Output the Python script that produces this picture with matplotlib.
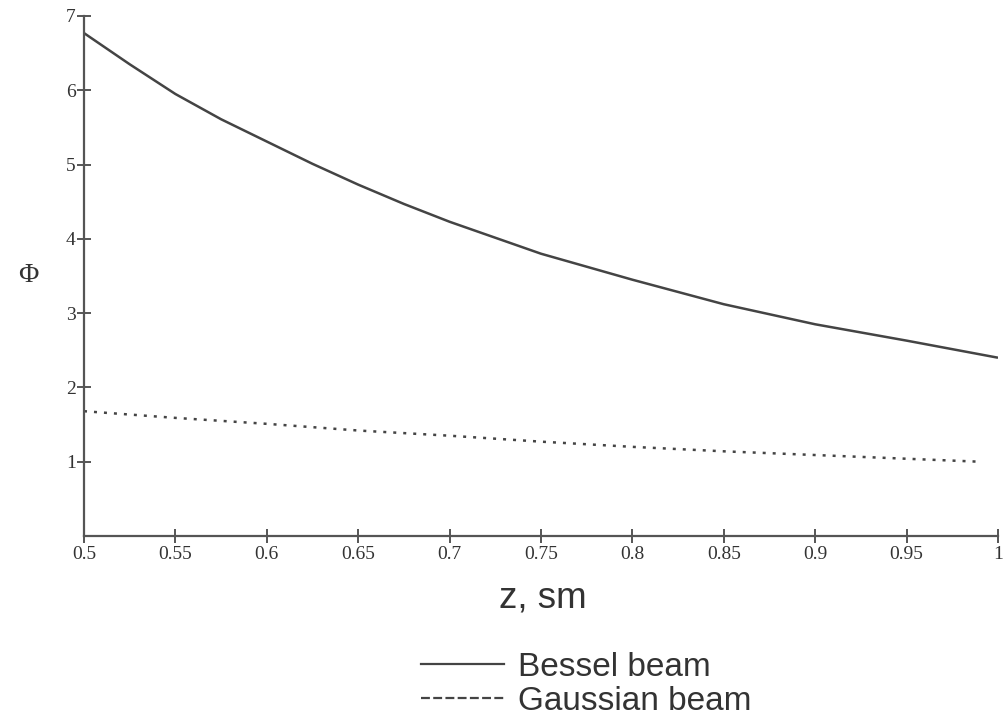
import matplotlib
matplotlib.use("Agg")
import matplotlib.pyplot as plt
from matplotlib.lines import Line2D

z_bessel = [0.5, 0.525, 0.55, 0.575, 0.6, 0.625, 0.65, 0.675, 0.7, 0.75, 0.8, 0.85, 0.9, 0.95, 1.0]
phi_bessel = [6.77, 6.35, 5.95, 5.61, 5.31, 5.01, 4.73, 4.47, 4.23, 3.80, 3.45, 3.12, 2.85, 2.63, 2.40]

z_gauss = [0.5, 0.55, 0.6, 0.65, 0.7, 0.75, 0.8, 0.85, 0.9, 0.95, 0.99]
phi_gauss = [1.68, 1.59, 1.51, 1.42, 1.35, 1.27, 1.20, 1.14, 1.09, 1.04, 1.0]

x_ticks = [0.5, 0.55, 0.6, 0.65, 0.7, 0.75, 0.8, 0.85, 0.9, 0.95, 1.0]
x_ticklabels = ["0.5", "0.55", "0.6", "0.65", "0.7", "0.75", "0.8", "0.85", "0.9", "0.95", "1"]
y_ticks = [1, 2, 3, 4, 5, 6, 7]
y_ticklabels = ["1", "2", "3", "4", "5", "6", "7"]

series_labels = ["Bessel beam", "Gaussian beam"]

W, H = 1004, 723
fig = plt.figure(figsize=(W / 100, H / 100), dpi=100)
ax = fig.add_axes([84 / W, (H - 536) / H, (998 - 84) / W, (536 - 16) / H])

line_col = "#444444"
axis_col = "#555555"

ax.plot(z_bessel, phi_bessel, color=line_col, lw=1.8, solid_capstyle="butt")
ax.plot(z_gauss, phi_gauss, color=line_col, lw=1.8, linestyle=(0, (1.2, 2.8)))

ax.set_xlim(0.5, 1.0)
ax.set_ylim(0, 7)
for s in ["top", "right"]:
    ax.spines[s].set_visible(False)
for s in ["left", "bottom"]:
    ax.spines[s].set_color(axis_col)
    ax.spines[s].set_linewidth(1.6)

ax.set_xticks(x_ticks)
ax.set_xticklabels(x_ticklabels, family="Liberation Serif", fontsize=14, color="#333333")
ax.set_yticks(y_ticks)
ax.set_yticklabels(y_ticklabels, family="Liberation Serif", fontsize=14, color="#333333")
ax.tick_params(axis="x", direction="inout", length=10, width=1.4, color=axis_col, pad=2)
ax.tick_params(axis="y", direction="inout", length=10, width=1.4, color=axis_col, pad=1)

ax.set_ylabel("Φ", rotation=0, family="Liberation Serif", fontsize=20, color="#333333",
              va="center", ha="center")
ax.yaxis.set_label_coords((28 - 84) / 914, (536 - 276) / 520)
ax.set_xlabel("z, sm", family="Liberation Sans", fontsize=26.5, color="#333333",
              va="center", ha="center")
ax.xaxis.set_label_coords((543 - 84) / 914, (536 - 598) / 520)

handles = [Line2D([], [], color=line_col, lw=1.6),
           Line2D([], [], color=line_col, lw=1.6, linestyle=(0, (4, 1.5)))]
leg = fig.legend(handles, series_labels, loc="upper left",
                 bbox_to_anchor=(421 / W, 1 - 652 / H), frameon=False,
                 prop={"family": "Liberation Sans", "size": 24},
                 handlelength=2.5, handletextpad=0.4, labelspacing=0.08,
                 borderpad=0, borderaxespad=0)
for t in leg.get_texts():
    t.set_color("#333333")

fig.savefig("out.png", dpi=100, facecolor="white")
